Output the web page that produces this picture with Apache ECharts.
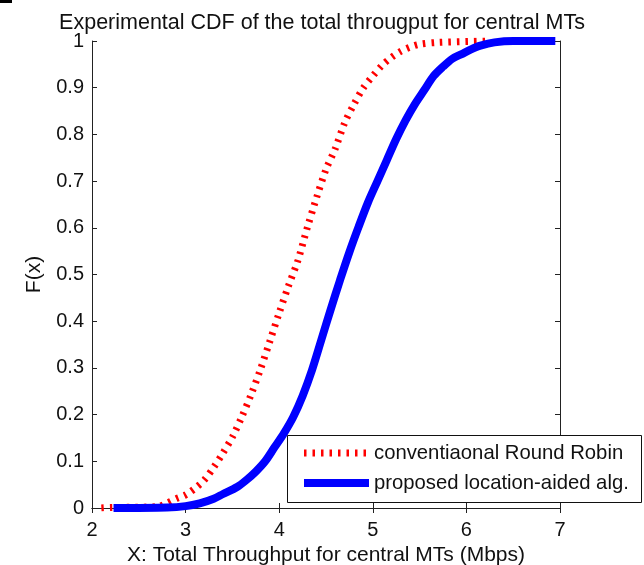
<!DOCTYPE html>
<html>
<head>
<meta charset="utf-8">
<script src="https://cdn.jsdelivr.net/npm/echarts@6/dist/echarts.min.js"></script>
<style>
html,body{margin:0;padding:0;background:#fff;}
#c{width:644px;height:565px;}
</style>
</head>
<body>
<div id="c"></div>
<script>
// ---- data ----
const titleText = "Experimental CDF of the total througput for central MTs";
const xName = "X: Total Throughput for central MTs (Mbps)";
const yName = "F(x)";
const seriesNames = ["conventiaonal Round Robin", "proposed location-aided alg."];
const yTickLabels = ["0","0.1","0.2","0.3","0.4","0.5","0.6","0.7","0.8","0.9","1"];

// conventional Round Robin
const rrX = [2.1, 2.2, 2.7, 2.8, 2.9, 3.0, 3.1, 3.2, 3.3, 3.4, 3.5, 3.6, 3.7, 3.8, 3.9, 4.0, 4.1, 4.2, 4.3, 4.4, 4.5, 4.6, 4.7, 4.8, 4.9, 5.0, 5.1, 5.2, 5.3, 5.4, 5.5, 5.7, 6.2];
const rrY = [0, 0.001, 0.003, 0.01, 0.02, 0.028, 0.042, 0.06, 0.087, 0.118, 0.152, 0.195, 0.243, 0.297, 0.357, 0.418, 0.476, 0.53, 0.6, 0.665, 0.725, 0.77, 0.825, 0.865, 0.9, 0.925, 0.948, 0.965, 0.978, 0.987, 0.993, 0.997, 1];

// proposed location-aided alg.
const laX = [2.23, 2.8, 3.0, 3.15, 3.3, 3.4, 3.55, 3.65, 3.75, 3.85, 3.95, 4.05, 4.15, 4.25, 4.35, 4.45, 4.55, 4.65, 4.75, 4.85, 4.95, 5.05, 5.15, 5.25, 5.35, 5.45, 5.55, 5.65, 5.75, 5.85, 5.95, 6.05, 6.15, 6.3, 6.5, 6.95];
const laY = [0, 0.001, 0.004, 0.01, 0.02, 0.03, 0.045, 0.06, 0.078, 0.1, 0.13, 0.16, 0.195, 0.24, 0.295, 0.36, 0.425, 0.488, 0.548, 0.603, 0.655, 0.7, 0.745, 0.79, 0.83, 0.865, 0.895, 0.925, 0.945, 0.962, 0.972, 0.982, 0.99, 0.997, 1, 1];

const pairs = (xs, ys) => xs.map((x, i) => [x, ys[i]]);

const FONT = "Liberation Sans";
const axisCol = "#222";
const txtCol = "#111";
const chart = echarts.init(document.getElementById('c'), null, {renderer: 'canvas'});

const axisCommon = {
  axisLine: {show: true, lineStyle: {color: axisCol, width: 1}},
  axisTick: {show: true, inside: true, length: 5, lineStyle: {color: axisCol}},
  splitLine: {show: false},
  axisLabel: {fontFamily: FONT, fontSize: 20, color: txtCol}
};

chart.setOption({
  animation: false,
  backgroundColor: "#fff",
  textStyle: {fontFamily: FONT},
  title: {
    text: titleText, left: 'center', top: 7,
    textStyle: {fontFamily: FONT, fontSize: 21.5, fontWeight: 'normal', color: txtCol}
  },
  grid: {left: 92, right: 84, top: 41, bottom: 57, containLabel: false, outerBoundsMode: 'none'},
  legend: {
    orient: 'vertical',
    left: 300, top: 442,
    padding: 0,
    itemWidth: 65, itemHeight: 8, itemGap: 8,
    itemStyle: {opacity: 0},
    lineStyle: {width: 'inherit'},
    textStyle: {fontFamily: FONT, fontSize: 20.3, color: txtCol, lineHeight: 22},
    z: 10,
    data: seriesNames.map(n => ({name: n}))
  },
  xAxis: [
    Object.assign({}, axisCommon, {
      type: 'value', min: 2, max: 7, interval: 1, position: 'bottom',
      name: xName, nameLocation: 'middle', nameGap: 36,
      nameTextStyle: {fontFamily: FONT, fontSize: 21, color: txtCol},
      axisLabel: Object.assign({}, axisCommon.axisLabel, {margin: 12})
    }),
    Object.assign({}, axisCommon, {
      type: 'value', min: 2, max: 7, interval: 1, position: 'top',
      axisLabel: {show: false}
    })
  ],
  yAxis: [
    Object.assign({}, axisCommon, {
      type: 'value', min: 0, max: 1, interval: 0.1, position: 'left',
      name: yName, nameLocation: 'middle', nameGap: 47, nameRotate: 90,
      nameTextStyle: {fontFamily: FONT, fontSize: 21, color: txtCol},
      axisLabel: Object.assign({}, axisCommon.axisLabel, {
        margin: 8,
        formatter: v => yTickLabels[Math.round(v * 10)]
      })
    }),
    Object.assign({}, axisCommon, {
      type: 'value', min: 0, max: 1, interval: 0.1, position: 'right',
      axisLabel: {show: false}
    })
  ],
  series: [
    {
      name: seriesNames[0], type: 'line', showSymbol: false, symbol: 'none',
      data: pairs(rrX, rrY), smooth: 0.3, z: 2,
      lineStyle: {color: '#ff0000', width: 7, type: [2.5, 6], cap: 'butt'},
      itemStyle: {color: '#ff0000'}
    },
    {
      name: seriesNames[1], type: 'line', showSymbol: false, symbol: 'none',
      data: pairs(laX, laY), smooth: 0.3, z: 2,
      lineStyle: {color: '#0000ff', width: 8},
      itemStyle: {color: '#0000ff'}
    }
  ],
  graphic: [
    {type: 'rect', left: 0, top: 0, shape: {width: 12, height: 3}, style: {fill: '#000'}},
    {type: 'rect', z: 5, shape: {x: 287.5, y: 435.5, width: 354, height: 67},
     style: {fill: '#fff', stroke: '#111', lineWidth: 1}}
  ]
});
</script>
</body>
</html>
